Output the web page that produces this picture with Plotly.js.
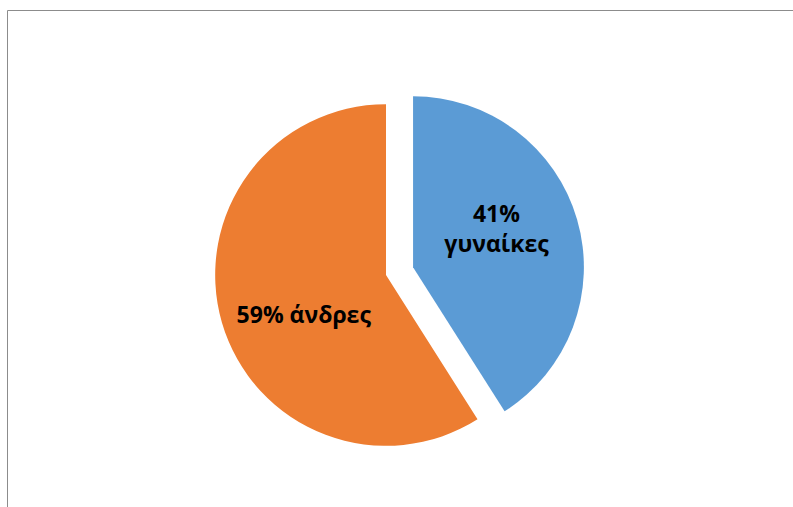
<!DOCTYPE html>
<html>
<head>
<meta charset="utf-8">
<script src="https://cdn.plot.ly/plotly-3.0.1.min.js"></script>
<style>html,body{margin:0;padding:0;background:#fff;}#chart{width:793px;height:507px;}</style>
</head>
<body>
<div id="chart"></div>
<script>
var labels = ['γυναίκες', 'άνδρες'];
var values = [41, 59];
var pulls = [0.165, 0];
var templates = ['%{percent:.0%}<br>%{label}<br> ', ' <br>%{percent:.0%} %{label}'];
var colors = ['#5B9BD5', '#ED7D31'];

var trace = {
  type: 'pie',
  labels: labels,
  values: values,
  pull: pulls,
  sort: false,
  direction: 'clockwise',
  rotation: 0,
  texttemplate: templates,
  textposition: 'inside',
  insidetextorientation: 'horizontal',
  textfont: {family: '"Open Sans", sans-serif', size: 23, color: '#000000', weight: 'bold'},
  marker: {colors: colors, line: {width: 0}},
  hoverinfo: 'none',
  showlegend: false,
  domain: {x: [187/793, 585/793], y: [33/507, 431/507]}
};

var layout = {
  width: 793,
  height: 507,
  margin: {l: 0, r: 0, t: 0, b: 0},
  paper_bgcolor: '#ffffff',
  showlegend: false,
  shapes: [
    {type: 'line', xref: 'paper', yref: 'paper', x0: 7.5/793, x1: 7.5/793, y0: 0, y1: 1 - 10.5/507, line: {color: '#8c8c8c', width: 1}},
    {type: 'line', xref: 'paper', yref: 'paper', x0: 7.5/793, x1: 1, y0: 1 - 10.5/507, y1: 1 - 10.5/507, line: {color: '#8c8c8c', width: 1}}
  ]
};

Plotly.newPlot('chart', [trace], layout, {staticPlot: true, displayModeBar: false});
</script>
</body>
</html>
